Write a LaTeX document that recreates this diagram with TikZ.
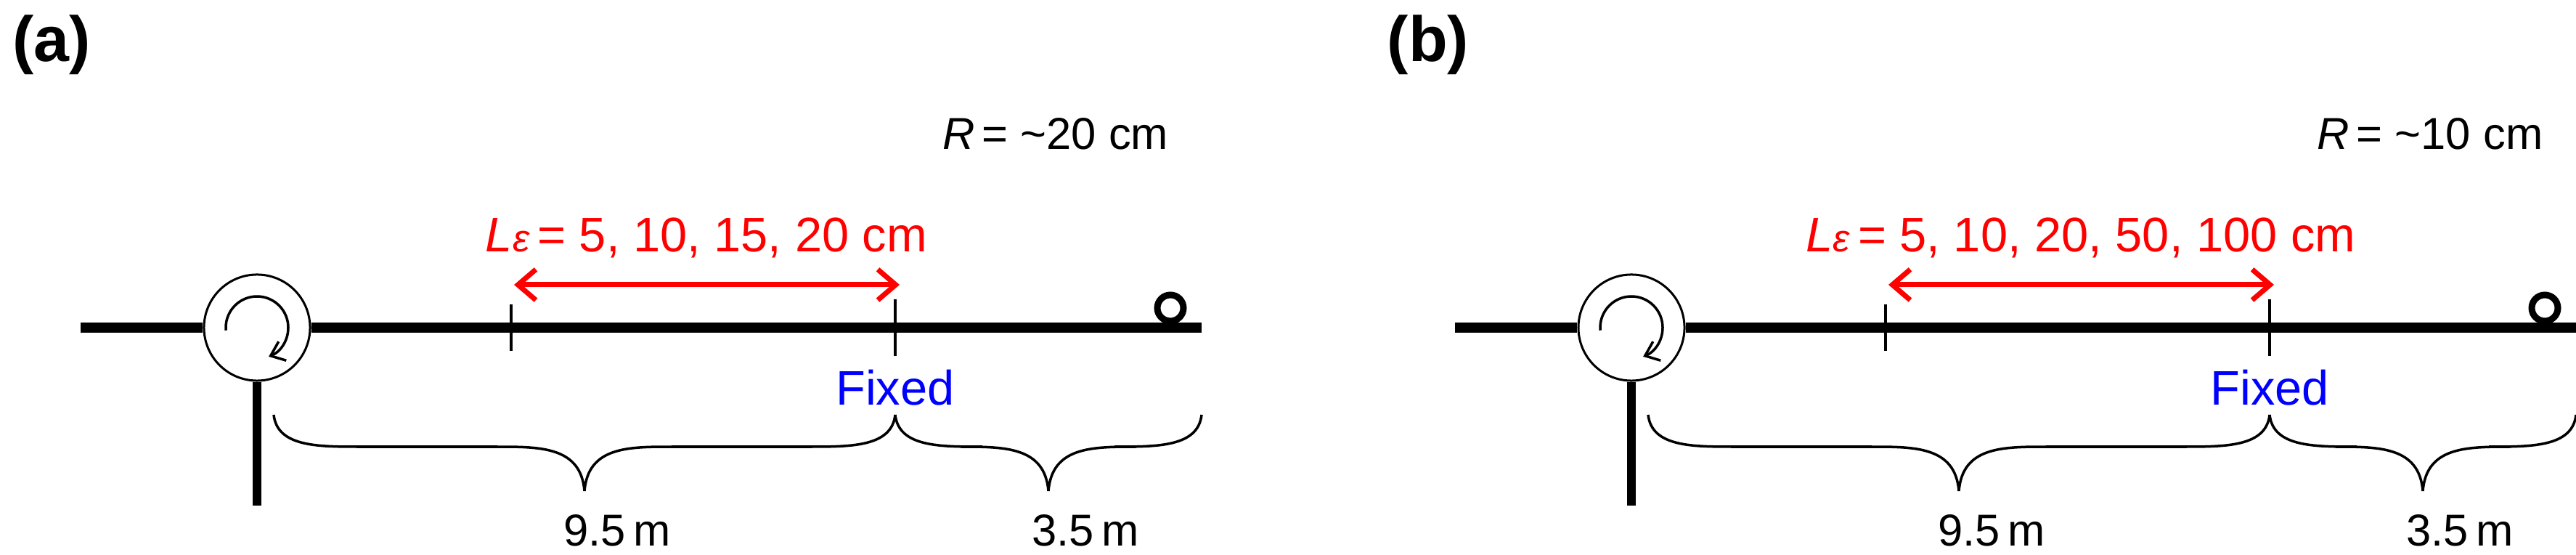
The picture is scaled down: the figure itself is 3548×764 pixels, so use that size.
\documentclass[tikz,border=0pt]{standalone}
\usepackage{fontspec}
\setmainfont{Liberation Sans}
\usetikzlibrary{arrows.meta}
\tikzset{
  fiber/.style={line width=14*0.2845pt},
  thin/.style={line width=3.5*0.2845pt},
  lbl/.style={inner sep=0pt, font=\fontsize{17.5}{20}\selectfont},
  redlbl/.style={inner sep=0pt, text=red, font=\fontsize{19}{22}\selectfont},
  bluelbl/.style={inner sep=0pt, text=blue, font=\fontsize{19}{22}\selectfont},
  panellbl/.style={inner sep=0pt, font=\fontsize{25}{28}\selectfont\bfseries, anchor=north west},
  circ/.style={circle, draw, line width=3*0.2845pt, minimum size=146*0.2845pt, inner sep=0pt, fill=white},
  redarrow/.style={draw=red, line width=7*0.2845pt, {Straight Barb[length=7pt,width=12pt]}-{Straight Barb[length=7pt,width=12pt]}},
}
\newcommand{\bracepath}[3]{% x1, xm, x2 at y 571..676
  \draw[thin] (#1,571) .. controls (#1+5,615) and (#1+60,615) .. (#1+120,615) -- (#2-120,615)
     .. controls (#2-60,615) and (#2-5,615) .. (#2,676);
  \draw[thin] (#3,571) .. controls (#3-5,615) and (#3-60,615) .. (#3-120,615) -- (#2+120,615)
     .. controls (#2+60,615) and (#2+5,615) .. (#2,676);
}
\newcommand{\drawpanel}[4]{% offset, label, R, L text
\begin{scope}[xshift=#1*0.01cm, name prefix=#2-]
  \node[panellbl] (lab) at (17,20) {(#2)};
  \node[lbl, anchor=east] (R) at (1610,184) {\textit{R}\,= \textasciitilde#3 cm};
  \node[redlbl] (L) at (973,327) {\textit{L}{\itshape\fontsize{15}{15}\selectfont ε}\,= #4 cm};
  \coordinate (s) at (111,451);
  \coordinate (e) at (1655,451);
  \coordinate (t1) at (704,451);
  \coordinate (t2) at (1233,451);
  \coordinate (vb) at (354,696);
  \node[circ] (c) at (354,451) {};
  \draw[fiber] (s) -- (c.west);
  \draw[fiber] (c.east) -- (e);
  \draw[line width=12*0.2845pt] (c.south) -- (vb);
  \draw[thin, -{Straight Barb[length=5pt,width=8pt]}] ([shift={(175:43)}]c.center) arc[start angle=175, end angle=428, radius=43];
  \draw[thin] ([yshift=-32*0.01cm]t1) -- ([yshift=32*0.01cm]t1);
  \draw[thin] ([yshift=-39*0.01cm]t2) -- ([yshift=39*0.01cm]t2);
  \draw[redarrow] (708,392) -- (1239,392);
  \draw[line width=9*0.2845pt] (1612,424) circle[radius=18];
  \node[bluelbl] (fx) at (1233,534) {Fixed};
  \bracepath{377}{805}{1233}
  \bracepath{1233}{1444}{1655}
  \node[lbl] (d1) at (850,730) {9.5\,m};
  \node[lbl] (d2) at (1495,730) {3.5\,m};
\end{scope}}
\begin{document}
\begin{tikzpicture}[x=0.01cm,y=-0.01cm]
\useasboundingbox (0,0) rectangle (3548,764);
\drawpanel{0}{a}{20}{5, 10, 15, 20}
\drawpanel{1893}{b}{10}{5, 10, 20, 50, 100}
\end{tikzpicture}
\end{document}
